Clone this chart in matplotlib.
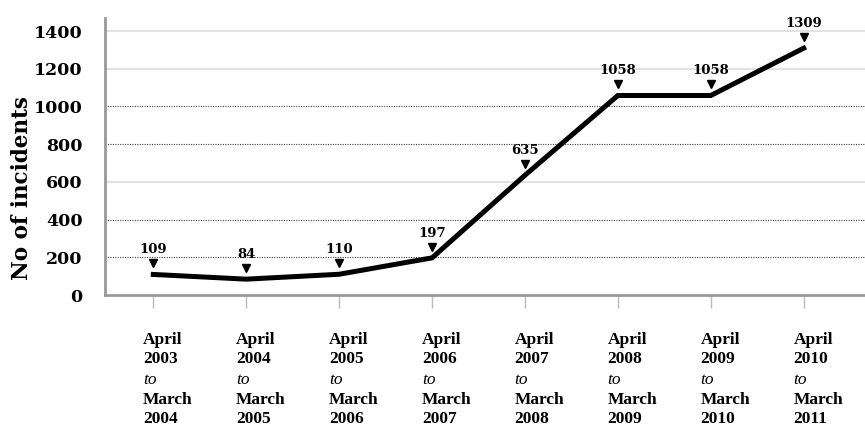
import matplotlib.pyplot as plt
from matplotlib.transforms import blended_transform_factory, ScaledTranslation

# donnees
periodes_debut = ["April\n2003", "April\n2004", "April\n2005", "April\n2006",
                  "April\n2007", "April\n2008", "April\n2009", "April\n2010"]
periodes_fin = ["March\n2004", "March\n2005", "March\n2006", "March\n2007",
                "March\n2008", "March\n2009", "March\n2010", "March\n2011"]
incidents = [109, 84, 110, 197, 635, 1058, 1058, 1309]
y_ticks = [0, 200, 400, 600, 800, 1000, 1200, 1400]

plt.rcParams['font.family'] = ['DejaVu Serif']

fig = plt.figure(figsize=(8.65, 4.29), dpi=100)
ax = fig.add_axes([105 / 865, 1 - 295 / 429, 760 / 865, 277 / 429])

x = list(range(len(incidents)))

# lignes de grille : pointillees et grises claires
for v in [200, 400, 800, 1000]:
    ax.axhline(v, color='#444444', lw=0.8, ls=(0, (1, 1.2)), zorder=1)
for v in [600, 1200, 1400]:
    ax.axhline(v, color='#e2e2e2', lw=1.5, zorder=1)

ax.plot(x, incidents, color='black', lw=3.6, solid_joinstyle='miter', zorder=3)

# etiquettes de valeurs avec petits triangles
decal = ax.transData + ScaledTranslation(0, 11 / 100, fig.dpi_scale_trans)
ax.plot(x, incidents, marker='v', ms=6, color='black', ls='none',
        transform=decal, zorder=4)
for xi, v in zip(x, incidents):
    ax.annotate(str(v), xy=(xi, v), xytext=(0, 13), textcoords='offset points',
                ha='center', va='bottom', fontsize=9.5, fontweight='bold')

ax.set_xlim(-0.52, 7.66)
ax.set_ylim(0, 1469)

ax.set_yticks(y_ticks)
ax.set_yticklabels([str(t) for t in y_ticks], fontsize=12.5, fontweight='bold')
ax.tick_params(axis='y', length=0, pad=16)
ax.set_ylabel('No of incidents', fontsize=15.5, fontweight='bold')
ax.yaxis.label.set_va('center')
ax.yaxis.set_label_coords(-0.109, 0.386)

ax.set_xticks(x)
ax.set_xticklabels([])
ax.tick_params(axis='x', length=9, width=1, color='#bbbbbb', direction='out')

for s in ['top', 'right']:
    ax.spines[s].set_visible(False)
for s in ['left', 'bottom']:
    ax.spines[s].set_color('#999999')
    ax.spines[s].set_linewidth(2)

# etiquettes de l'axe x sur plusieurs lignes
trans = blended_transform_factory(ax.transData, fig.transFigure)
serif = ['Liberation Serif', 'DejaVu Serif']
for xi, deb, fin in zip(x, periodes_debut, periodes_fin):
    x0 = xi - 0.11
    ax.text(x0, 1 - 332 / 429, deb, transform=trans, ha='left', va='top',
            fontsize=12.5, fontweight='bold', linespacing=1.25, family=serif)
    ax.text(x0, 1 - 372 / 429, 'to', transform=trans, ha='left', va='top',
            fontsize=12.5, fontstyle='italic', family=serif)
    ax.text(x0, 1 - 392 / 429, fin, transform=trans, ha='left', va='top',
            fontsize=12.5, fontweight='bold', linespacing=1.25, family=serif)

plt.savefig('out.png', dpi=100)
plt.close()
